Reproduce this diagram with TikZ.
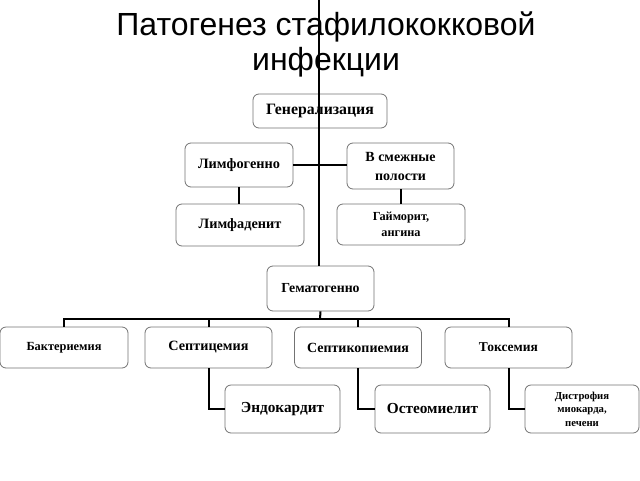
\documentclass[tikz,border=0pt]{standalone}
\usepackage{fontspec}
\setmainfont{Liberation Serif}
\newfontfamily\titlefont{Liberation Sans}
\newcommand{\fs}[2]{\fontsize{#1}{#2}\selectfont}
\tikzset{
  box/.style={draw=black!55, rounded corners=6pt, line width=0.8pt, align=center,
    inner sep=0pt, fill=white, text=black},
  fsz/.style 2 args={font=\bfseries\fs{#1}{#2}},
  conn/.style={line width=2pt, black},
  ttl/.style={font=\titlefont\fontsize{32}{37}\selectfont, anchor=base, inner sep=0pt},
}
\begin{document}
\begin{tikzpicture}[x=1pt,y=-1pt]
\useasboundingbox (0,0) rectangle (640,480);
\node[ttl] (title1) at (326,35) {Патогенез стафилококковой};
\node[ttl] (title2) at (326,70) {инфекции};
\node[box, fsz={15.8}{18}, minimum width=134, minimum height=34] (gen) at (320,111) {Генерализация};
\node[box, fsz={14.3}{16}, minimum width=108, minimum height=44] (limf) at (239,165) {Лимфогенно};
\node[box, fsz={14}{19}, minimum width=107, minimum height=46] (smezh) at (400.5,166) {В смежные\\полости};
\node[box, fsz={14.3}{16}, minimum width=128, minimum height=42] (limfad) at (240,225) {Лимфаденит};
\node[box, fsz={12.3}{16}, minimum width=128, minimum height=41] (gaim) at (401,224.5) {Гайморит,\\ангина};
\node[box, fsz={13.8}{16}, minimum width=107, minimum height=45] (gemat) at (320.5,288.5) {Гематогенно};
\node[box, fsz={12.4}{14}, minimum width=128, minimum height=41] (bakt) at (64,347.5) {Бактериемия};
\node[box, fsz={14.2}{16}, minimum width=127, minimum height=41] (sept) at (208.5,347.5) {Септицемия};
\node[box, fsz={14}{16}, minimum width=127, minimum height=41] (septik) at (358,347.5) {Септикопиемия};
\node[box, fsz={13.5}{16}, minimum width=127, minimum height=41] (toks) at (508.5,347.5) {Токсемия};
\node[box, fsz={15.3}{17}, minimum width=115, minimum height=48] (endo) at (282.5,409) {Эндокардит};
\node[box, fsz={15.3}{17}, minimum width=115, minimum height=48] (osteo) at (432.5,409) {Остеомиелит};
\node[box, fsz={10.7}{13.5}, minimum width=114, minimum height=48] (distr) at (582,409) {Дистрофия\\миокарда,\\печени};
\coordinate (top) at (319,0);
\coordinate (bus) at (320,319);
\draw[conn] (top) -- (top |- gemat.north);
\draw[conn] (limf.east) -- (limf.east -| smezh.west);
\draw[conn] (limf.south) -- (limf.south |- limfad.north);
\draw[conn] (smezh.south) -- (smezh.south |- gaim.north);
\draw[conn] (gemat.south) -- (bus);
\draw[conn] (bakt.north) |- (bus) -| (toks.north);
\draw[conn] (sept.north) -- (sept.north |- bus);
\draw[conn] (septik.north) -- (septik.north |- bus);
\draw[conn] (sept.south) |- (endo.west);
\draw[conn] (septik.south) |- (osteo.west);
\draw[conn] (toks.south) |- (distr.west);
\end{tikzpicture}
\end{document}
